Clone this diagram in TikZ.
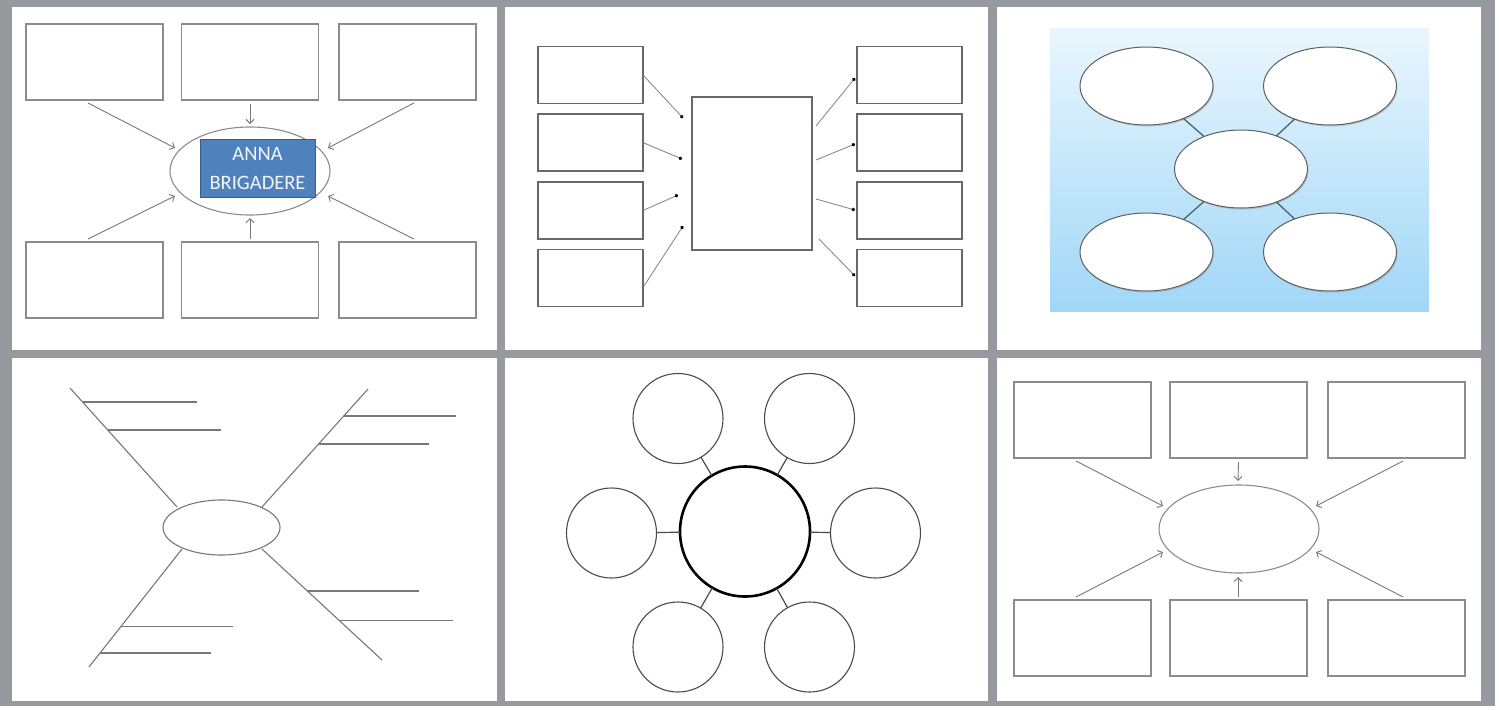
\documentclass[tikz,border=0pt]{standalone}
\usepackage{fontspec}
\setmainfont{Carlito}
\usetikzlibrary{arrows.meta,shapes.geometric,calc,shadows}
\definecolor{bggray}{RGB}{150,154,159}
\definecolor{boxgray}{RGB}{140,140,140}
\definecolor{arrgray}{RGB}{120,120,120}
\definecolor{dboxgray}{RGB}{105,105,105}
\definecolor{annablue}{RGB}{79,129,189}
\definecolor{annaedge}{RGB}{56,93,138}
\definecolor{skytop}{RGB}{234,246,253}
\definecolor{skybot}{RGB}{160,215,247}
\definecolor{ovaledge}{RGB}{95,95,95}
\definecolor{spokeblue}{RGB}{70,90,100}
\definecolor{ringgray}{RGB}{75,75,75}
\tikzset{
  gbox/.style={draw=boxgray, line width=1.1pt, fill=white, rectangle, inner sep=0pt, outer sep=0pt, minimum width=137pt, minimum height=76pt},
  gellipse/.style={draw=boxgray, line width=1.1pt, ellipse, inner sep=0pt, outer sep=0pt, minimum width=160pt, minimum height=88pt},
  garrow/.style={draw=arrgray, line width=0.9pt, -{Straight Barb[length=4pt,width=8pt]}},
  dbox/.style={draw=dboxgray, line width=1.4pt, fill=white, rectangle, inner sep=0pt, outer sep=0pt, minimum width=105pt, minimum height=57pt},
  dotline/.style={draw=boxgray, line width=0.9pt, -{Circle[length=3.5pt,color=black]}},
  oval3/.style={draw=ovaledge, line width=1pt, fill=white, ellipse, inner sep=0pt, outer sep=0pt, minimum width=133pt, minimum height=78pt, drop shadow={shadow xshift=1pt, shadow yshift=-1.5pt, opacity=0.35}},
  spoke3/.style={draw=spokeblue, line width=1.2pt},
  fishline/.style={draw=arrgray, line width=1.1pt},
  ring/.style={draw=ringgray, line width=1.1pt, circle, inner sep=0pt, outer sep=0pt, minimum size=90pt},
  bigring/.style={draw=black, line width=2.6pt, circle, inner sep=0pt, outer sep=0pt, minimum size=130pt},
  spoke5/.style={draw=ringgray, line width=1.2pt}
}
\begin{document}
\begin{tikzpicture}[x=1pt,y=-1pt]
\useasboundingbox (0,0) rectangle (1499,710);
\fill[white] (0,0) rectangle (1499,710);
\fill[bggray] (0,0) rectangle (1495,706);
% panels
\fill[white] (12,7) rectangle (497,350);
\fill[white] (505,7) rectangle (988,350);
\fill[white] (997,7) rectangle (1481,350);
\fill[white] (12,358) rectangle (497,701);
\fill[white] (505,358) rectangle (988,701);
\fill[white] (997,358) rectangle (1481,701);

% ---------- Panel 1 ----------
\node[gbox] (a1) at (94.5,62) {};
\node[gbox] (a2) at (250,62) {};
\node[gbox] (a3) at (407.5,62) {};
\node[gbox] (a4) at (94.5,280) {};
\node[gbox] (a5) at (250,280) {};
\node[gbox] (a6) at (407.5,280) {};
\node[gellipse] (ae) at (250,171) {};
\node[draw=annaedge, line width=0.8pt, fill=annablue, inner sep=0pt, minimum width=115pt, minimum height=58pt,
      text=white!92!annablue, align=center, font=\fontsize{20.5}{29}\selectfont] (anna) at (257.5,168) {ANNA\\BRIGADERE};
\draw[garrow] ($(a1.south)+(-6.5,3)$) -- ($(ae.center)+(-75,-23)$);
\draw[garrow] ($(a2.south)+(0,4)$) -- ($(ae.center)+(0,-47)$);
\draw[garrow] ($(a3.south)+(6.5,3)$) -- ($(ae.center)+(78,-23)$);
\draw[garrow] ($(a4.north)+(-6.5,-3)$) -- ($(ae.center)+(-75,25)$);
\draw[garrow] ($(a5.north)+(0,-3)$) -- ($(ae.center)+(0,47)$);
\draw[garrow] ($(a6.north)+(6.5,-3)$) -- ($(ae.center)+(78,25)$);

% ---------- Panel 2 ----------
\node[dbox] (l1) at (590.5,75) {};
\node[dbox] (l2) at (590.5,142.5) {};
\node[dbox] (l3) at (590.5,210.5) {};
\node[dbox] (l4) at (590.5,278) {};
\node[dbox] (r1) at (909.5,75) {};
\node[dbox] (r2) at (909.5,142.5) {};
\node[dbox] (r3) at (909.5,210.5) {};
\node[dbox] (r4) at (909.5,278) {};
\node[dbox, minimum width=120pt, minimum height=153pt] (cr) at (752,173.5) {};
\draw[dotline] ($(l1.east)+(1,1)$) -- ($(cr.west)+(-9,-55.5)$);
\draw[dotline] ($(l2.east)+(1,0.5)$) -- ($(cr.west)+(-10,-14.5)$);
\draw[dotline] ($(l3.east)+(1,-0.5)$) -- ($(cr.west)+(-14,21.5)$);
\draw[dotline] ($(l4.east)+(1,8)$) -- ($(cr.west)+(-9,52.5)$);
\draw[dotline] ($(cr.east)+(4,-47.5)$) -- ($(r1.west)+(-2,3)$);
\draw[dotline] ($(cr.east)+(4,-13.5)$) -- ($(r2.west)+(-2,1.5)$);
\draw[dotline] ($(cr.east)+(4,25.5)$) -- ($(r3.west)+(-2,-0.5)$);
\draw[dotline] ($(cr.east)+(7,65.5)$) -- ($(r4.west)+(-2,-2)$);

% ---------- Panel 3 ----------
\node[rectangle, inner sep=0pt, minimum width=379pt, minimum height=283pt, top color=skytop, bottom color=skybot, draw=none] (sky) at (1239.5,169.5) {};
\node[oval3] (o1) at (1146.5,86) {};
\node[oval3] (o2) at (1330,86) {};
\node[oval3] (o4) at (1146.5,252) {};
\node[oval3] (o5) at (1330,252) {};
\node[oval3] (oc) at (1241,169) {};
\draw[spoke3] (oc) -- (o1);
\draw[spoke3] (oc) -- (o2);
\draw[spoke3] (oc) -- (o4);
\draw[spoke3] (oc) -- (o5);

% ---------- Panel 4 ----------
\node[draw=arrgray, line width=1.1pt, ellipse, inner sep=0pt, outer sep=0pt, minimum width=117pt, minimum height=55pt] (fe) at (221.5,527.5) {};
\coordinate (ftl) at (70,388);
\coordinate (ftr) at (368,389);
\coordinate (fbl) at (89,667);
\coordinate (fbr) at (382,660);
\coordinate (itl) at ($(fe.center)+(-44.5,-20.5)$);
\coordinate (itr) at ($(fe.center)+(40.5,-20.5)$);
\coordinate (ibl) at ($(fe.center)+(-39.5,21.5)$);
\coordinate (ibr) at ($(fe.center)+(40.5,21.5)$);
\draw[fishline] (ftl) -- (itl);
\draw[fishline] (ftr) -- (itr);
\draw[fishline] (ibl) -- (fbl);
\draw[fishline] (ibr) -- (fbr);
\draw[fishline] ($(ftl)!0.118!(itl)$) -- ++(114,0);
\draw[fishline] ($(ftl)!0.353!(itl)$) -- ++(113,0);
\draw[fishline] ($(ftr)!0.229!(itr)$) -- ++(112,0);
\draw[fishline] ($(ftr)!0.466!(itr)$) -- ++(110,0);
\draw[fishline] ($(ibl)!0.653!(fbl)$) -- ++(112,0);
\draw[fishline] ($(ibl)!0.881!(fbl)$) -- ++(111,0);
\draw[fishline] ($(ibr)!0.378!(fbr)$) -- ++(112,0);
\draw[fishline] ($(ibr)!0.64!(fbr)$) -- ++(114,0);

% ---------- Panel 5 ----------
\node[bigring] (cc) at (745,531.5) {};
\node[ring] (s1) at (678,418.5) {};
\node[ring] (s2) at (809.5,418.5) {};
\node[ring] (s3) at (611.5,533) {};
\node[ring] (s4) at (875.5,533) {};
\node[ring] (s5) at (678,647) {};
\node[ring] (s6) at (809.5,647) {};
\foreach \s in {s1,s2,s3,s4,s5,s6} \draw[spoke5] (cc) -- (\s);

% ---------- Panel 6 ----------
\node[gbox] (b1) at (1082.5,420) {};
\node[gbox] (b2) at (1238.5,420) {};
\node[gbox] (b3) at (1396.5,420) {};
\node[gbox] (b4) at (1082.5,638) {};
\node[gbox] (b5) at (1238.5,638) {};
\node[gbox] (b6) at (1396.5,638) {};
\node[gellipse] (be) at (1239,529) {};
\draw[garrow] ($(b1.south)+(-6.5,3)$) -- ($(be.center)+(-76,-23)$);
\draw[garrow] ($(b2.south)+(0,4)$) -- ($(be.center)+(-1,-48)$);
\draw[garrow] ($(b3.south)+(6.5,3)$) -- ($(be.center)+(77,-23)$);
\draw[garrow] ($(b4.north)+(-6.5,-3)$) -- ($(be.center)+(-76,23)$);
\draw[garrow] ($(b5.north)+(-0.5,-3)$) -- ($(be.center)+(-1,48)$);
\draw[garrow] ($(b6.north)+(6.5,-3)$) -- ($(be.center)+(77,23)$);
\end{tikzpicture}
\end{document}
